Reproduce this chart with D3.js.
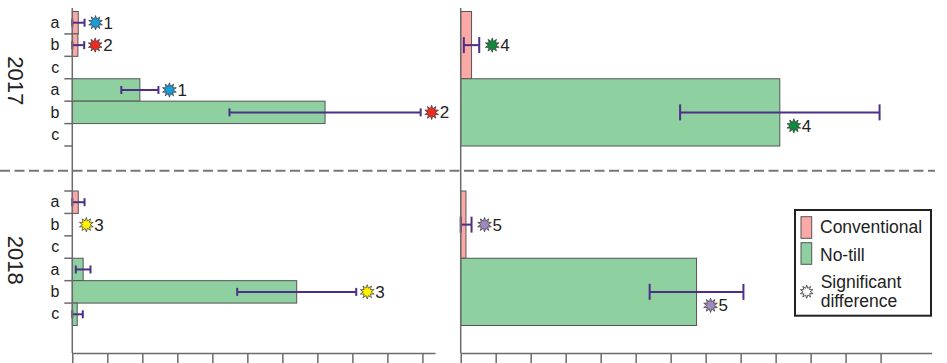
<!DOCTYPE html>
<html lang="en">
<head>
<meta charset="utf-8">
<title>Conventional vs no-till</title>
<script src="https://d3js.org/d3.v7.min.js"></script>
<style>
  body { margin: 0; background: #fff; }
  svg { font-family: "Liberation Sans", Arial, sans-serif; }
  .axis path, .axis line { stroke: #6b6b6b; stroke-width: 1.5; }
</style>
</head>
<body>
<svg id="chart" width="947" height="363"></svg>
<script>
// categories and series
var years = ["2017", "2018"];
var categories = ["a", "b", "c"];
var treatments = ["Conventional", "No-till"];

// left panels: values per category (a, b, c)
var conv2017 = [0.17, 0.16, 0];
var convErr2017 = [0.18, 0.18, 0];
var noTill2017 = [1.93, 7.22, 0];
var noTillErr2017 = [0.53, 2.73, 0];
var conv2018 = [0.17, 0, 0];
var convErr2018 = [0.18, 0, 0];
var noTill2018 = [0.31, 6.41, 0.14];
var noTillErr2018 = [0.21, 1.70, 0.16];

// right panels: totals per year (2017, 2018)
var totalConv = [0.31, 0.15];
var totalConvErr = [0.22, 0.16];
var totalNoTill = [9.12, 6.74];
var totalNoTillErr = [2.85, 1.34];

// x tick values (no labels shown)
var leftTicks = d3.range(0, 11);
var rightTicks = d3.range(0, 13);

// significant differences: pairs share a group number
var sigMarks = [
  {year: "2017", panel: "cat", treatment: "Conventional", cat: "a", group: 1},
  {year: "2017", panel: "cat", treatment: "No-till", cat: "a", group: 1},
  {year: "2017", panel: "cat", treatment: "Conventional", cat: "b", group: 2},
  {year: "2017", panel: "cat", treatment: "No-till", cat: "b", group: 2},
  {year: "2018", panel: "cat", treatment: "Conventional", cat: "b", group: 3},
  {year: "2018", panel: "cat", treatment: "No-till", cat: "b", group: 3},
  {year: "2017", panel: "total", treatment: "Conventional", group: 4},
  {year: "2017", panel: "total", treatment: "No-till", group: 4},
  {year: "2018", panel: "total", treatment: "Conventional", group: 5},
  {year: "2018", panel: "total", treatment: "No-till", group: 5}
];

var groupColors = {1: "#1b9bd8", 2: "#ef2a22", 3: "#fff200", 4: "#0f8a3c", 5: "#9f89bf"};
var fillColors = {"Conventional": "#fba9a6", "No-till": "#8ed0a0"};
var errColor = "#4e2f87";

var svg = d3.select("#chart");

// scales
var xLeft = d3.scaleLinear().domain([0, 10.36]).range([72.3, 435]);
var xRight = d3.scaleLinear().domain([0, 13.46]).range([460.7, 931.7]);
var panelTop = {"2017": 11.5, "2018": 191};
var bandH = 134.5;
var axisY = 353;

var rows = [];
treatments.forEach(function(t) {
  categories.forEach(function(c) { rows.push(t + "|" + c); });
});

function rowScale(year) {
  return d3.scaleBand().domain(rows).range([panelTop[year], panelTop[year] + bandH]);
}
function totScale(year) {
  return d3.scaleBand().domain(treatments).range([panelTop[year], panelTop[year] + bandH]);
}

var catSeries = {
  "2017": {"Conventional": [conv2017, convErr2017], "No-till": [noTill2017, noTillErr2017]},
  "2018": {"Conventional": [conv2018, convErr2018], "No-till": [noTill2018, noTillErr2018]}
};

// build flat records for drawing
var catData = [];
var totData = [];
years.forEach(function(yr, yi) {
  treatments.forEach(function(t) {
    categories.forEach(function(c, ci) {
      catData.push({year: yr, treatment: t, cat: c,
        value: catSeries[yr][t][0][ci], err: catSeries[yr][t][1][ci]});
    });
  });
  totData.push({year: yr, treatment: "Conventional", value: totalConv[yi], err: totalConvErr[yi]});
  totData.push({year: yr, treatment: "No-till", value: totalNoTill[yi], err: totalNoTillErr[yi]});
});

// dashed separator
svg.append("line")
  .attr("x1", 0).attr("x2", 935)
  .attr("y1", 170.7).attr("y2", 170.7)
  .attr("stroke", "#777").attr("stroke-width", 2)
  .attr("stroke-dasharray", "10,4.5");

// bars
function yCat(d) { return rowScale(d.year)(d.treatment + "|" + d.cat); }
function yTot(d) { return totScale(d.year)(d.treatment); }

svg.append("g").selectAll("rect")
  .data(catData.filter(function(d) { return d.value > 0; }))
  .enter().append("rect")
  .attr("x", xLeft(0))
  .attr("y", yCat)
  .attr("width", function(d) { return xLeft(d.value) - xLeft(0); })
  .attr("height", rowScale("2017").bandwidth())
  .attr("fill", function(d) { return fillColors[d.treatment]; })
  .attr("stroke", "#555").attr("stroke-width", 1);

svg.append("g").selectAll("rect")
  .data(totData)
  .enter().append("rect")
  .attr("x", xRight(0))
  .attr("y", yTot)
  .attr("width", function(d) { return xRight(d.value) - xRight(0); })
  .attr("height", totScale("2017").bandwidth())
  .attr("fill", function(d) { return fillColors[d.treatment]; })
  .attr("stroke", "#555").attr("stroke-width", 1);

// error bars
function drawErrors(data, x, yFn, bw, cap) {
  var g = svg.append("g").attr("stroke", errColor).attr("stroke-width", 2);
  var e = g.selectAll("g").data(data.filter(function(d) { return d.err > 0; }))
    .enter().append("g")
    .attr("transform", function(d) { return "translate(0," + (yFn(d) + bw / 2) + ")"; });
  e.append("line")
    .attr("x1", function(d) { return x(Math.max(0, d.value - d.err)); })
    .attr("x2", function(d) { return x(d.value + d.err); });
  e.append("line")
    .attr("x1", function(d) { return x(Math.max(0, d.value - d.err)); })
    .attr("x2", function(d) { return x(Math.max(0, d.value - d.err)); })
    .attr("y1", -cap / 2).attr("y2", cap / 2);
  e.append("line")
    .attr("x1", function(d) { return x(d.value + d.err); })
    .attr("x2", function(d) { return x(d.value + d.err); })
    .attr("y1", -cap / 2).attr("y2", cap / 2);
}
drawErrors(catData, xLeft, yCat, rowScale("2017").bandwidth(), 8);
drawErrors(totData, xRight, yTot, totScale("2017").bandwidth(), 16);

// burst star path
function starPath(r1, r2, n) {
  var pts = [];
  for (var i = 0; i < n * 2; i++) {
    var a = Math.PI * i / n - Math.PI / 2;
    var r = i % 2 === 0 ? r1 : r2;
    pts.push([r * Math.cos(a), r * Math.sin(a)]);
  }
  return d3.line()(pts) + "Z";
}
var star = starPath(7.2, 3.9, 10);

// significance markers
var marks = sigMarks.map(function(m) {
  var d, x, y;
  if (m.panel === "cat") {
    d = catData.find(function(c) { return c.year === m.year && c.treatment === m.treatment && c.cat === m.cat; });
    var bw = rowScale(m.year).bandwidth();
    y = yCat(d) + bw / 2;
    x = d.err > 0 ? xLeft(d.value + d.err) + 11 : xLeft(d.value) + 14;
  } else {
    d = totData.find(function(c) { return c.year === m.year && c.treatment === m.treatment; });
    var bw2 = totScale(m.year).bandwidth();
    if (m.treatment === "No-till") {
      x = xRight(d.value) + 14;
      y = yTot(d) + bw2 / 2 + 13.5;
    } else {
      x = xRight(d.value + d.err) + 13;
      y = yTot(d) + bw2 / 2;
    }
  }
  return {x: x, y: y, group: m.group};
});

var mg = svg.append("g").selectAll("g").data(marks).enter().append("g")
  .attr("transform", function(d) { return "translate(" + d.x + "," + d.y + ")"; });
mg.append("path").attr("d", star)
  .attr("fill", function(d) { return groupColors[d.group]; })
  .attr("stroke", "#333").attr("stroke-width", 0.7);
mg.append("text").attr("x", 8).attr("y", 6)
  .attr("font-size", 17).attr("fill", "#222")
  .text(function(d) { return d.group; });

// x axes
svg.append("g").attr("class", "axis")
  .attr("transform", "translate(0," + axisY + ")")
  .call(d3.axisBottom(xLeft).tickValues(leftTicks).tickSize(10).tickSizeOuter(0).tickFormat(""));
svg.append("g").attr("class", "axis")
  .attr("transform", "translate(0," + axisY + ")")
  .call(d3.axisBottom(xRight).tickValues(rightTicks).tickSize(10).tickSizeOuter(0).tickFormat(""));

// y axis lines
[xLeft(0), xRight(0)].forEach(function(x0) {
  svg.append("line").attr("x1", x0).attr("x2", x0)
    .attr("y1", 8).attr("y2", axisY)
    .attr("stroke", "#6b6b6b").attr("stroke-width", 1.5);
});

// category labels and boundary ticks on the left axis
years.forEach(function(yr) {
  var y = rowScale(yr);
  var g = svg.append("g").attr("class", "axis")
    .attr("transform", "translate(" + xLeft(0) + ",0)");
  g.call(d3.axisLeft(y).tickSize(0).tickPadding(13)
    .tickFormat(function(d) { return d.split("|")[1]; }));
  g.select(".domain").remove();
  g.selectAll("text").attr("font-size", 16).attr("fill", "#222")
    .attr("font-family", "Liberation Sans, Arial, sans-serif");
  g.selectAll("line.bound").data(rows).enter().append("line")
    .attr("class", "bound")
    .attr("x1", -8).attr("x2", 0)
    .attr("y1", function(d) { return yr === "2017" ? y(d) + y.bandwidth() : y(d); })
    .attr("y2", function(d) { return yr === "2017" ? y(d) + y.bandwidth() : y(d); });

  svg.append("text")
    .attr("transform", "translate(16," + (panelTop[yr] + bandH / 2 + 2) + ") rotate(90)")
    .attr("text-anchor", "middle")
    .attr("dy", "0.35em")
    .attr("font-size", 22).attr("fill", "#222")
    .text(yr);
});

// legend
var lg = svg.append("g").attr("transform", "translate(795,210)");
lg.append("rect").attr("width", 136).attr("height", 105.7)
  .attr("fill", "#fff").attr("stroke", "#222").attr("stroke-width", 2);
treatments.forEach(function(t, i) {
  lg.append("rect").attr("x", 6).attr("y", 6.7 + i * 26)
    .attr("width", 10.7).attr("height", 21.6)
    .attr("fill", fillColors[t]).attr("stroke", "#555").attr("stroke-width", 1);
  lg.append("text").attr("x", 25).attr("y", 23 + i * 28.3)
    .attr("font-size", 17.5).attr("fill", "#222").text(t);
});
lg.append("path").attr("d", starPath(6.6, 3.5, 10))
  .attr("transform", "translate(11.7,81.7)")
  .attr("fill", "#fff").attr("stroke", "#333").attr("stroke-width", 0.8);
lg.append("text").attr("x", 25.7).attr("y", 78).attr("font-size", 17.5).attr("fill", "#222").text("Significant");
lg.append("text").attr("x", 25.7).attr("y", 96.7).attr("font-size", 17.5).attr("fill", "#222").text("difference");
</script>
</body>
</html>
